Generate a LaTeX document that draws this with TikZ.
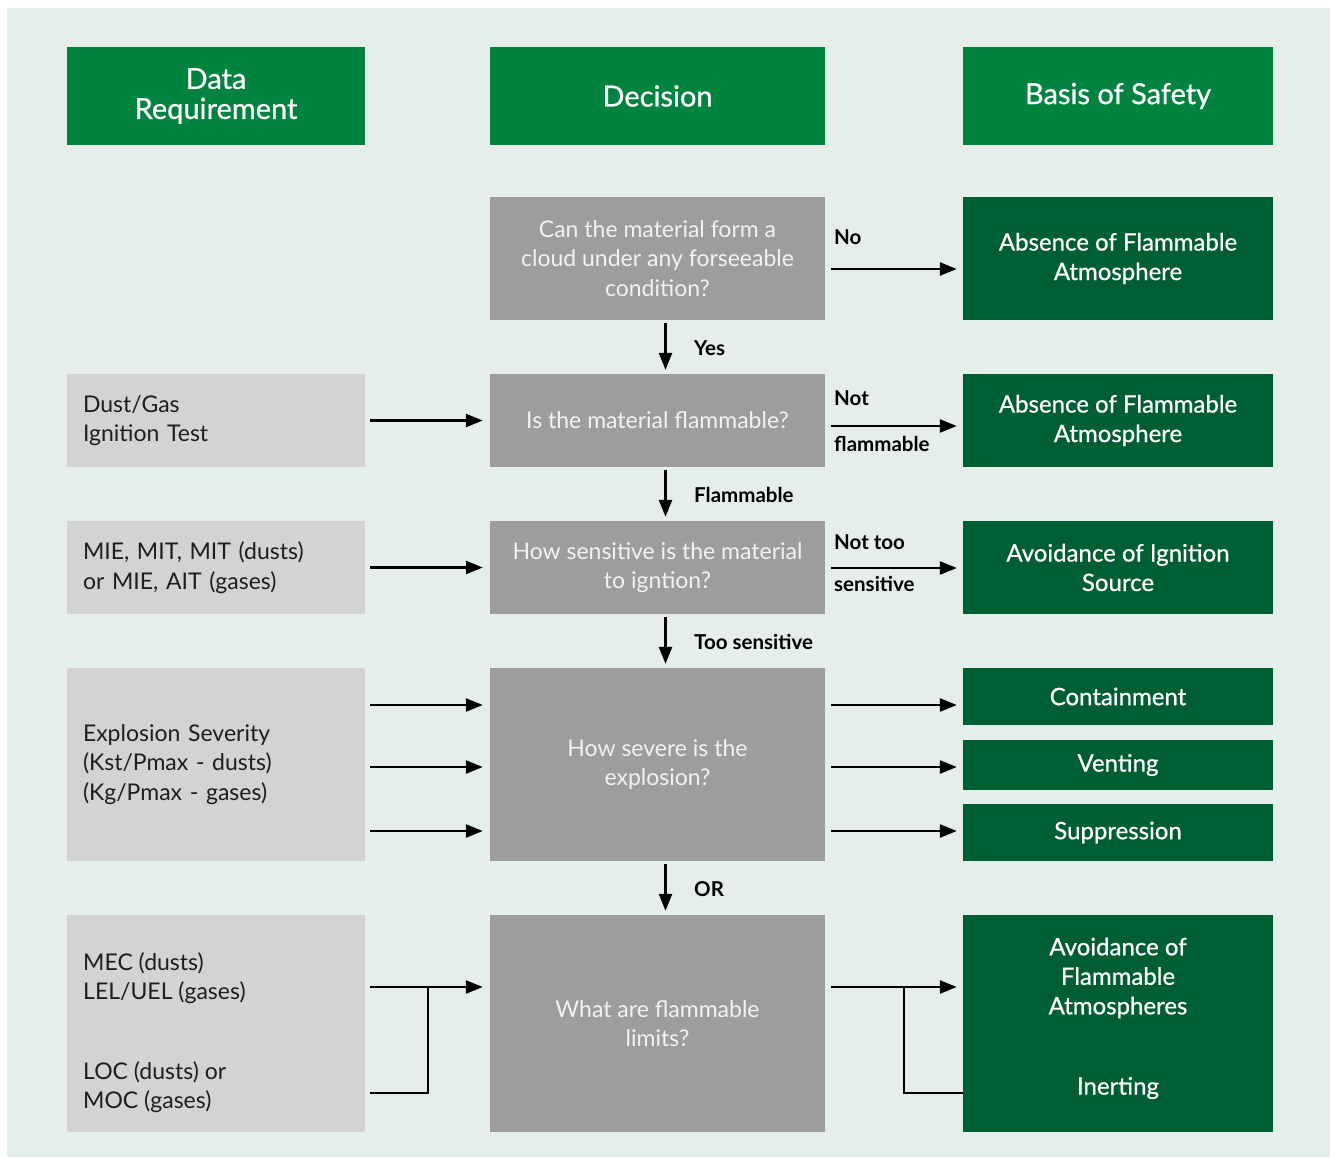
\documentclass[tikz,border=0pt]{standalone}
\usepackage{fontspec}
\setmainfont{Lato}
\newfontfamily\latomed{Lato}[FakeBold=0.7]
\usetikzlibrary{arrows.meta,calc,positioning}
\definecolor{PageBg}{HTML}{E5EEE9}
\definecolor{HeadGreen}{HTML}{00833F}
\definecolor{SafeGreen}{HTML}{005F32}
\definecolor{DecGray}{HTML}{9C9D9C}
\definecolor{DataGray}{HTML}{D2D3D2}
\definecolor{DecText}{HTML}{F2F2F2}
\definecolor{InkDark}{HTML}{1E1E1E}
\newcommand{\bodyfnt}{\fontsize{23}{29.5}\selectfont}
\newcommand{\safefnt}{\latomed\fontsize{24}{29.5}\selectfont}
\newcommand{\hdrfnt}{\latomed\fontsize{29}{30}\selectfont}
\newcommand{\lblfnt}{\fontsize{20.5}{24}\selectfont\bfseries}
\tikzset{
  hdrbox/.style={fill=HeadGreen, text=white, minimum height=98pt, inner sep=0pt,
                 align=center, font=\hdrfnt},
  datbox/.style={fill=DataGray, text=InkDark, minimum width=298pt, text width=266pt,
                 inner xsep=16pt, inner ysep=0pt, align=left, font=\bodyfnt},
  dattxt/.style={text=InkDark, inner sep=0pt, align=left, anchor=west, font=\bodyfnt},
  decbox/.style={fill=DecGray, text=DecText, minimum width=335pt, inner sep=0pt,
                 align=center, font=\bodyfnt},
  safebox/.style={fill=SafeGreen, text=white, minimum width=310pt, inner sep=0pt,
                  align=center, font=\safefnt},
  safetxt/.style={text=white, inner sep=0pt, align=center, font=\safefnt},
  elabel/.style={font=\lblfnt, text=black, inner sep=0pt, anchor=west},
  arr/.style={-{Triangle[length=17pt,width=13pt]}, line width=2.5pt,
              shorten <=5pt, shorten >=7pt},
  darr/.style={-{Triangle[length=17pt,width=13pt]}, line width=2.5pt,
               shorten <=3pt, shorten >=4pt},
  wire/.style={line width=2.5pt},
}
\begin{document}
\begin{tikzpicture}[x=1pt, y=-1pt]
\useasboundingbox (0,0) rectangle (1337,1157);
\fill[PageBg] (7,8) rectangle (1330,1157);

% column heads
\node[hdrbox, minimum width=298pt] (hdata) at (216,96) {Data\\Requirement};
\node[hdrbox, minimum width=335pt] (hdec) at (657.5,96) {Decision};
\node[hdrbox, minimum width=310pt] (hsafe) at (1118,96) {Basis of Safety};

% decisions
\node[decbox, minimum height=123pt] (dc1) at (657.5,258.5)
  {Can the material form a\\cloud under any forseeable\\condition?};
\node[decbox, minimum height=93pt] (dc2) at (657.5,420.5) {Is the material flammable?};
\node[decbox, minimum height=93pt] (dc3) at (657.5,567.5)
  {How sensitive is the material\\to igntion?};
\node[decbox, minimum height=193pt] (dc4) at (657.5,764.5) {How severe is the\\explosion?};
\node[decbox, minimum height=217pt] (dc5) at (657.5,1023.5) {What are flammable\\limits?};

% data requirements
\node[datbox, minimum height=93pt] (dr2) at (216,420.5) {Dust/Gas\\Ignition Test};
\node[datbox, minimum height=93pt] (dr3) at (216,567.5)
  {MIE, MIT, MIT (dusts)\\or MIE, AIT (gases)};
\node[datbox, minimum height=193pt] (dr4) at (216,764.5)
  {Explosion Severity\\(Kst/Pmax - dusts)\\(Kg/Pmax - gases)};
\node[datbox, minimum height=217pt] (dr5) at (216,1023.5) {};
\node[dattxt] (mec) at (83,978) {MEC (dusts)\\LEL/UEL (gases)};
\node[dattxt] (loc) at (83,1087) {LOC (dusts) or\\MOC (gases)};

% basis of safety
\node[safebox, minimum height=123pt] (sb1) at (1118,258.5) {Absence of Flammable\\Atmosphere};
\node[safebox, minimum height=93pt] (sb2) at (1118,420.5) {Absence of Flammable\\Atmosphere};
\node[safebox, minimum height=93pt] (sb3) at (1118,567.5) {Avoidance of Ignition\\Source};
\node[safebox, minimum height=57pt] (sbc) at (1118,696.5) {Containment};
\node[safebox, minimum height=50pt] (sbv) at (1118,765) {Venting};
\node[safebox, minimum height=57pt] (sbs) at (1118,832.5) {Suppression};
\node[safebox, minimum height=217pt] (sb5) at (1118,1023.5) {};
\node[safetxt] (avoid) at (1118,978) {Avoidance of\\Flammable\\Atmospheres};
\node[safetxt] (inert) at (1118,1088) {Inerting};

% row heights of the split connectors
\coordinate (r4a) at (0,705);
\coordinate (r4b) at (0,767);
\coordinate (r4c) at (0,831);
\coordinate (r5a) at (0,987);
\coordinate (r5b) at (0,1093);
\coordinate (jl) at (428,987);
\coordinate (jr) at (904,987);

% down the decision column
\draw[darr] ($(dc1.south)+(8,0)$) -- ($(dc2.north)+(8,0)$);
\draw[darr] ($(dc2.south)+(8,0)$) -- ($(dc3.north)+(8,0)$);
\draw[darr] ($(dc3.south)+(8,0)$) -- ($(dc4.north)+(8,0)$);
\draw[darr] ($(dc4.south)+(8,0)$) -- ($(dc5.north)+(8,0)$);
\node[elabel] (lyes) at (694,348) {Yes};
\node[elabel] (lflam) at (694,495) {Flammable};
\node[elabel] (ltoo) at (694,642) {Too sensitive};
\node[elabel] (lor) at (694,889) {OR};

% data into decisions
\draw[arr] (dr2) -- (dc2);
\draw[arr] (dr3) -- (dc3);
\draw[arr] (dr4.east |- r4a) -- (dc4.west |- r4a);
\draw[arr] (dr4.east |- r4b) -- (dc4.west |- r4b);
\draw[arr] (dr4.east |- r4c) -- (dc4.west |- r4c);
\draw[arr] (dr5.east |- r5a) -- (dc5.west |- r5a);
\draw[wire, shorten <=5pt] (dr5.east |- r5b) -| (jl);

% decisions into basis of safety
\draw[arr, shorten <=6pt, shorten >=6pt] (dc1.east |- 0,269) -- (sb1.west |- 0,269);
\draw[arr, shorten <=6pt, shorten >=6pt] (dc2.east |- 0,426) -- (sb2.west |- 0,426);
\draw[arr, shorten <=6pt, shorten >=6pt] (dc3.east |- 0,568) -- (sb3.west |- 0,568);
\draw[arr, shorten <=6pt, shorten >=6pt] (dc4.east |- r4a) -- (sbc.west |- r4a);
\draw[arr, shorten <=6pt, shorten >=6pt] (dc4.east |- r4b) -- (sbv.west |- r4b);
\draw[arr, shorten <=6pt, shorten >=6pt] (dc4.east |- r4c) -- (sbs.west |- r4c);
\draw[arr, shorten <=6pt, shorten >=6pt] (dc5.east |- r5a) -- (sb5.west |- r5a);
\draw[wire] (sb5.west |- r5b) -| (jr);
\node[elabel] (lno) at (834,237) {No};
\node[elabel] (lnot) at (834,398) {Not};
\node[elabel] (lnotf) at (834,444) {flammable};
\node[elabel] (lnottoo) at (834,542) {Not too};
\node[elabel] (lsens) at (834,584) {sensitive};
\end{tikzpicture}
\end{document}
